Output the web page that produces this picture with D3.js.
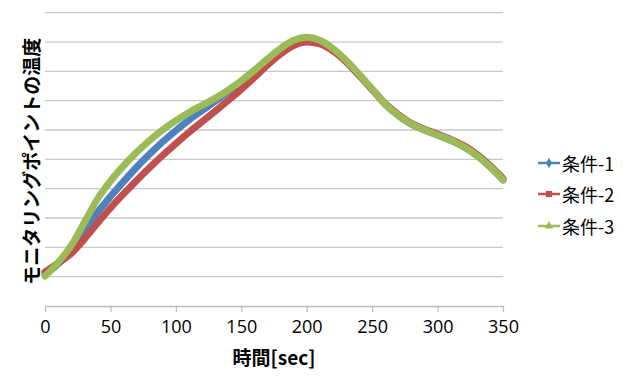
<!DOCTYPE html>
<html><head><meta charset="utf-8">
<script src="https://cdn.jsdelivr.net/npm/d3@7"></script>
<style>
html,body{margin:0;padding:0;background:#fff;}
svg{display:block;font-family:"Noto Sans CJK JP","Noto Sans",sans-serif;}
</style></head>
<body><svg id="c" width="633" height="391"></svg>
<script>
const times = [0,10,20,30,40,50,60,70,80,90,100,110,120,130,140,150,160,170,180,190,200,210,220,230,240,250,260,270,280,290,300,310,320,330,340,350];
const series1 = [10.6,14.3,19,25.5,31.8,37.3,42.4,47.3,51.8,56,59.8,63.4,66.6,69.8,73.1,76.6,80.2,84,87.6,90.3,91.2,90.2,87.4,83.5,78.8,73.9,68.8,65,62,60,58.3,56.5,54.3,51.3,47.5,43];
const series2 = [11.6,14.6,17.9,22.8,28.2,33.4,38.2,42.8,47.2,51.4,55.4,59.2,62.8,66.4,70.1,73.9,77.9,82.1,85.9,88.8,90,89.4,87,83.3,78.6,73.8,69,65.3,62.3,60.3,58.6,56.8,54.7,51.7,47.9,43.5];
const series3 = [10.2,14.8,20.6,28.4,36.4,42.6,47.8,52.4,56.5,60.1,63.2,66,68.4,70.8,73.6,76.8,80.4,84.2,87.8,90.6,91.6,90.6,87.8,83.8,79,74,68.8,65,62,60,58.3,56.5,54.3,51.3,47.5,43];
const seriesNames = ["条件-1","条件-2","条件-3"];
const xTicks = [0,50,100,150,200,250,300,350];
const yGrid = [10,20,30,40,50,60,70,80,90,100];
const xTitle = "時間[sec]";
const yTitle = "モニタリングポイントの温度";

const colors = ["#4f81bd","#c0504d","#9bbb59"];
const svg = d3.select("#c");
const x = d3.scaleLinear().domain([0,350]).range([45,503]);
const y = d3.scaleLinear().domain([0,100]).range([306,12.7]);

svg.append("g").selectAll("line").data(yGrid).join("line")
  .attr("x1",x(0)).attr("x2",x(350))
  .attr("y1",d=>y(d)).attr("y2",d=>y(d))
  .attr("stroke","#c8c8c8").attr("stroke-width",1.3);

const xa = svg.append("g").attr("transform",`translate(0,${y(0)})`)
  .call(d3.axisBottom(x).tickValues(xTicks).tickSize(6).tickPadding(8).tickSizeOuter(0));
xa.select(".domain").attr("stroke","#bfbfbf").attr("stroke-width",1.3);
xa.selectAll(".tick line").attr("stroke","#bfbfbf").attr("stroke-width",1.3);
xa.selectAll(".tick text").attr("font-size",18).attr("fill","#000")
  .attr("font-family","'Open Sans','Noto Sans',sans-serif");

const data = [series1,series2,series3];
const line = d3.line().x((d,i)=>x(times[i])).y(d=>y(d)).curve(d3.curveMonotoneX);
svg.append("g").selectAll("path").data(data).join("path")
  .attr("d",d=>line(d)).attr("fill","none")
  .attr("stroke",(d,i)=>colors[i]).attr("stroke-width",7)
  .attr("stroke-linejoin","round").attr("stroke-linecap","round");

svg.append("text").attr("x",(x(0)+x(350))/2).attr("y",365)
  .attr("text-anchor","middle").attr("font-size",19).attr("font-weight","bold").text(xTitle);
svg.append("text").attr("transform",`translate(30,${y(50)+2}) rotate(-90)`)
  .attr("text-anchor","middle").attr("dominant-baseline","central")
  .attr("font-size",19).attr("font-weight","bold").text(yTitle);

const lg = svg.append("g");
const rows = [163,194,226];
seriesNames.forEach((n,i)=>{
  const g = lg.append("g").attr("transform",`translate(0,${rows[i]})`);
  g.append("line").attr("x1",538).attr("x2",560).attr("y1",0).attr("y2",0)
    .attr("stroke",colors[i]).attr("stroke-width",2.5);
  const sym = [d3.symbolDiamond,d3.symbolSquare,d3.symbolTriangle][i];
  g.append("path").attr("d",d3.symbol(sym, i===1?40:32)()).attr("transform","translate(549,0)")
    .attr("fill",colors[i]);
  g.append("text").attr("x",562).attr("y",0).attr("dominant-baseline","central")
    .attr("font-size",18).attr("fill","#000").text(n);
});
</script></body></html>
